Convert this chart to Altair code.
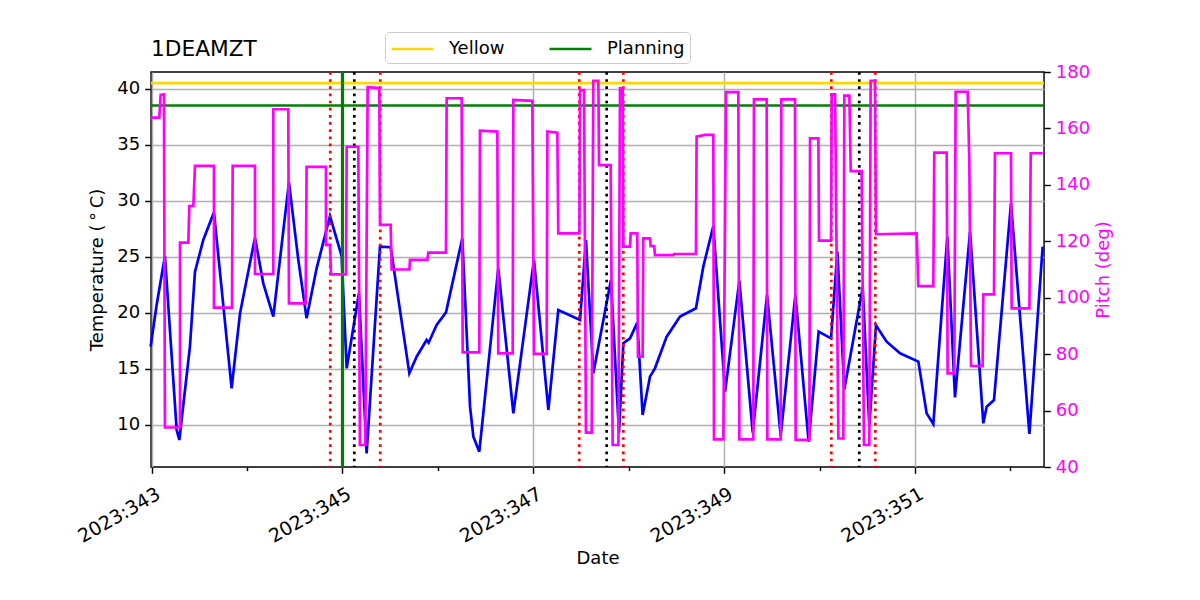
import altair as alt
import pandas as pd

# ---------------- data ----------------
temp_day = [342.989, 343.052, 343.139, 343.262, 343.290, 343.401, 343.454, 343.541, 343.653,
            343.838, 343.926, 344.083, 344.170, 344.275, 344.439, 344.537, 344.624, 344.729,
            344.869, 344.991, 345.044, 345.173, 345.253, 345.393, 345.505, 345.701, 345.777,
            345.882, 345.903, 345.987, 346.085, 346.256, 346.337, 346.372, 346.434, 346.469,
            346.633, 346.791, 347.007, 347.158, 347.262, 347.490, 347.552, 347.629, 347.814,
            347.898, 347.944, 348.014, 348.090, 348.146, 348.223, 348.275, 348.398, 348.538,
            348.705, 348.782, 348.887, 349.010, 349.160, 349.300, 349.450, 349.593, 349.747,
            349.886, 349.991, 350.121, 350.187, 350.260, 350.453, 350.522, 350.592, 350.634,
            350.704, 350.844, 351.036, 351.123, 351.193, 351.340, 351.420, 351.578, 351.717,
            351.752, 351.829, 352.007, 352.200, 352.339]
temp_val = [16.97, 20.69, 25.06, 9.53, 8.63, 16.97, 23.66, 26.49, 28.96,
            13.25, 19.94, 26.70, 22.62, 19.65, 31.64, 24.71, 19.50, 23.96,
            28.63, 25.06, 15.03, 21.73, 7.44, 25.90, 25.84, 14.59, 16.07,
            17.56, 17.32, 18.90, 20.03, 26.64, 11.61, 8.93, 7.59, 10.42,
            23.96, 11.01, 24.71, 11.31, 20.24, 19.35, 26.49, 14.59, 22.92,
            9.29, 17.27, 17.71, 19.11, 10.87, 14.29, 15.03, 17.86, 19.65,
            20.39, 24.11, 27.74, 12.95, 22.86, 9.29, 21.58, 8.99, 21.58,
            8.49, 18.31, 17.71, 25.45, 13.16, 22.24, 9.88, 18.90, 18.31,
            17.41, 16.37, 15.63, 11.01, 10.06, 26.79, 12.44, 27.24, 10.12,
            11.61, 12.20, 29.77, 9.17, 25.90]

pitch_day = [342.989, 343.080, 343.094, 343.129, 343.139, 343.297, 343.297, 343.384, 343.395,
             343.437, 343.454, 343.653, 343.653, 343.842, 343.849, 344.083, 344.083, 344.275,
             344.275, 344.432, 344.439, 344.614, 344.624, 344.827, 344.827, 344.869, 344.880,
             345.037, 345.044, 345.166, 345.183, 345.239, 345.264, 345.386, 345.393, 345.505,
             345.515, 345.701, 345.708, 345.889, 345.900, 346.085, 346.092, 346.249, 346.260,
             346.434, 346.441, 346.623, 346.633, 346.784, 346.791, 346.990, 347.007, 347.140,
             347.148, 347.252, 347.262, 347.483, 347.490, 347.532, 347.552, 347.612, 347.629,
             347.682, 347.689, 347.811, 347.832, 347.892, 347.909, 347.937, 347.944, 348.014,
             348.021, 348.090, 348.097, 348.146, 348.153, 348.223, 348.230, 348.268, 348.275,
             348.468, 348.475, 348.705, 348.712, 348.800, 348.887, 348.894, 348.992, 349.020,
             349.149, 349.160, 349.306, 349.313, 349.446, 349.453, 349.593, 349.600, 349.743,
             349.750, 349.894, 349.901, 349.988, 349.995, 350.121, 350.128, 350.163, 350.198,
             350.250, 350.260, 350.313, 350.327, 350.442, 350.466, 350.522, 350.536, 350.581,
             350.592, 351.018, 351.036, 351.193, 351.203, 351.333, 351.343, 351.413, 351.427,
             351.553, 351.570, 351.588, 351.710, 351.717, 351.829, 351.839, 352.007, 352.014,
             352.200, 352.214, 352.339]
pitch_val = [163.8, 163.8, 171.9, 172.1, 54.0, 54.0, 119.5, 119.5, 132.5,
             132.5, 146.7, 146.7, 96.5, 96.5, 146.7, 146.7, 108.4, 108.4,
             166.8, 166.8, 98.0, 98.0, 146.4, 146.4, 118.7, 118.7, 108.3,
             108.3, 153.5, 153.5, 47.8, 47.8, 174.6, 174.3, 125.8, 125.8,
             110.0, 110.0, 113.4, 113.4, 116.0, 116.0, 170.7, 170.7, 80.6,
             80.6, 159.2, 158.9, 80.3, 80.3, 170.1, 169.8, 80.1, 80.1,
             158.9, 158.5, 122.8, 122.8, 173.6, 173.6, 52.2, 52.2, 176.9,
             176.9, 147.0, 147.0, 47.8, 47.8, 174.2, 174.2, 118.1, 118.1,
             122.8, 122.8, 79.1, 79.1, 121.0, 121.0, 118.3, 118.3, 115.1,
             115.1, 115.5, 115.5, 157.1, 157.7, 157.7, 49.8, 49.8, 172.9,
             172.9, 49.8, 49.8, 170.3, 170.3, 49.8, 49.8, 170.3, 170.3,
             49.6, 49.6, 156.5, 156.5, 120.2, 120.2, 172.1, 172.1, 50.1,
             50.1, 171.6, 171.6, 144.9, 144.9, 47.8, 47.8, 176.9, 176.9,
             122.5, 122.8, 104.1, 104.1, 151.4, 151.4, 73.2, 73.2, 173.0,
             173.0, 148.8, 75.8, 75.8, 101.2, 101.2, 151.2, 151.2, 96.2,
             96.2, 151.2, 151.2]

red_days = [344.872, 345.396, 347.482, 347.944, 350.124, 350.585]
black_days = [345.124, 347.769, 350.417]
planning_days = [345.0]
limit_names = ["Yellow", "Planning"]
limit_values = [40.5, 38.5]
limit_colors = ["#ffd700", "#008000"]

x_ticks = [343, 344, 345, 346, 347, 348, 349, 350, 351, 352]
temp_ticks = [10, 15, 20, 25, 30, 35, 40]
pitch_ticks = [40, 60, 80, 100, 120, 140, 160, 180]

X_DOMAIN = [342.993, 352.353]
T_DOMAIN = [6.22, 41.49]
P_DOMAIN = [40, 180]

FONT = "DejaVu Sans"

# ---------------- frames ----------------
temp_df = pd.DataFrame({"day": temp_day, "temp": temp_val})
pitch_df = pd.DataFrame({"day": pitch_day, "pitch": pitch_val, "i": list(range(len(pitch_day)))})
red_df = pd.DataFrame({"day": red_days})
black_df = pd.DataFrame({"day": black_days})
plan_df = pd.DataFrame({"day": planning_days})
limit_df = pd.DataFrame({"name": limit_names, "temp": limit_values})

major = "datum.value % 2 == 1"
x_axis = alt.Axis(
    values=x_ticks,
    labelExpr="datum.value % 2 == 1 ? '2023:' + datum.value : ''",
    title="Date",
    labelAngle=-30,
    labelAlign="right",
    labelBaseline="top",
    labelFontSize=19,
    labelPadding=11,
    labelOffset=2,
    tickSize={"condition": {"test": major, "value": 6.3}, "value": 3.6},
    gridOpacity={"condition": {"test": major, "value": 1}, "value": 0},
    grid=True,
    titlePadding=3,
)
x_scale = alt.Scale(domain=X_DOMAIN, nice=False, zero=False)


def X():
    return alt.X("day:Q", scale=x_scale, axis=x_axis)


t_axis = alt.Axis(values=temp_ticks, title="Temperature (\u2009°\u2009C)", grid=True,
                  tickSize=6.3, labelPadding=5, titlePadding=10)
t_scale = alt.Scale(domain=T_DOMAIN, nice=False, zero=False)


def YT():
    return alt.Y("temp:Q", scale=t_scale, axis=t_axis)


temp_line = alt.Chart(temp_df).mark_line(color="#0000ff", strokeWidth=2.7).encode(
    x=X(), y=YT())

limits = alt.Chart(limit_df).mark_rule(strokeWidth=2.7).encode(
    y=YT(),
    color=alt.Color("name:N",
                    scale=alt.Scale(domain=limit_names, range=limit_colors),
                    legend=alt.Legend(title=None, orient="none", legendX=234, legendY=-40,
                                      direction="horizontal", symbolType="M-1,0H3",
                                      symbolStrokeWidth=2.7, symbolSize=441,
                                      labelFontSize=18, labelFont=FONT, labelOffset=35,
                                      columnPadding=39, padding=5, strokeColor="#cccccc",
                                      fillColor="white", cornerRadius=4)))

red_rules = alt.Chart(red_df).mark_rule(color="#ff0000", strokeWidth=2.7,
                                        strokeDash=[2.7, 4.46]).encode(x=X())
black_rules = alt.Chart(black_df).mark_rule(color="black", strokeWidth=2.7,
                                            strokeDash=[2.7, 4.46]).encode(x=X())
plan_rule = alt.Chart(plan_df).mark_rule(color="#008000", strokeWidth=3.2).encode(x=X())

left = alt.layer(temp_line, limits, red_rules, black_rules, plan_rule)

pitch_line = alt.Chart(pitch_df).mark_line(color="#ff00ff", strokeWidth=2.7).encode(
    x=X(),
    y=alt.Y("pitch:Q", scale=alt.Scale(domain=P_DOMAIN, nice=False, zero=False),
            axis=alt.Axis(orient="right", values=pitch_ticks, title="Pitch (deg)", grid=False,
                          tickSize=6.3, labelPadding=5, titlePadding=5, titleAngle=270,
                          titleBaseline="top",
                          labelColor="#ff00ff", titleColor="#ff00ff")),
    order="i:Q")

chart = alt.layer(left, pitch_line).resolve_scale(y="independent").properties(
    width=893,
    height=395,
    padding={"left": 143, "top": 64, "right": 140, "bottom": 117},
    autosize=alt.AutoSizeParams(type="none"),
    background="white",
    title=alt.TitleParams("1DEAMZT", anchor="start", frame="group", fontSize=21.7,
                          font=FONT, fontWeight="normal", offset=14, dy=60,
                          baseline="alphabetic", color="black"),
).configure_view(stroke="black", strokeWidth=1.44).configure_axis(
    labelFont=FONT, titleFont=FONT, labelFontSize=18, titleFontSize=18,
    titleFontWeight="normal", tickColor="black", tickWidth=1.44, domain=False,
    gridColor="#b0b0b0", gridWidth=1.44, labelColor="black", titleColor="black",
).configure_legend(labelFont=FONT)

chart.save("out.html", embed_options={"renderer": "svg", "actions": False})
